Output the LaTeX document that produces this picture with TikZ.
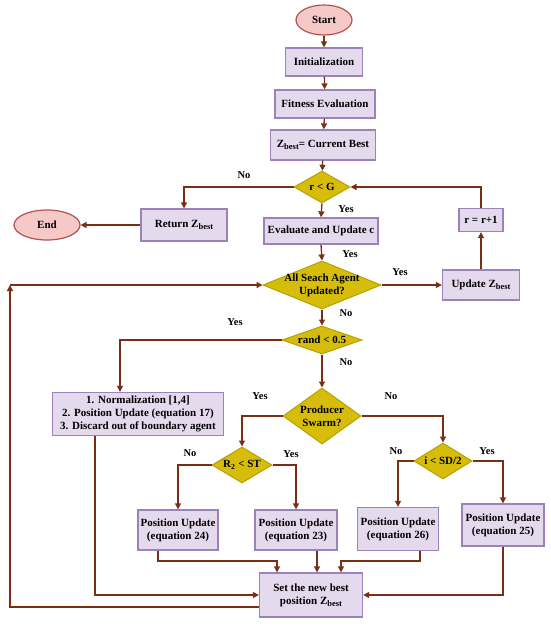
\documentclass[tikz,border=0pt]{standalone}
\usepackage{fontspec}
\setmainfont{Liberation Serif}
\usetikzlibrary{shapes.geometric,arrows.meta}
\definecolor{boxfill}{RGB}{229,218,237}
\definecolor{boxdraw}{RGB}{155,130,184}
\definecolor{diafill}{RGB}{214,189,11}
\definecolor{diadraw}{RGB}{184,159,0}
\definecolor{ellfill}{RGB}{246,201,201}
\definecolor{elldraw}{RGB}{181,80,79}
\definecolor{linec}{RGB}{122,46,19}
\newcommand\mysub[1]{\raisebox{-0.45ex}{\fontsize{8.5}{9}\selectfont #1}}
\tikzset{
  base/.style={font=\bfseries\fontsize{11}{13}\selectfont, text=black, inner sep=1pt},
  procbox/.style={base, rectangle, draw=boxdraw, fill=boxfill, line width=1.3pt, align=center},
  term/.style={base, ellipse, draw=elldraw, fill=ellfill, line width=1.2pt},
  dec/.style={diamond, draw=diadraw, fill=diafill, line width=1pt, inner sep=0pt},
  dectext/.style={base, align=center},
  conn/.style={draw=linec, line width=1.3pt, -{Triangle[length=6pt,width=6pt]}},
  lab/.style={font=\bfseries\fontsize{10.5}{12}\selectfont, text=black, inner sep=0pt}
}
\begin{document}
\begin{tikzpicture}[x=1pt,y=-1pt]
\useasboundingbox (0,0) rectangle (550,626);
\fill[white] (0,0) rectangle (550,626);
% terminals
\node[term, minimum width=56, minimum height=30] (start) at (324,20) {Start};
\node[term, minimum width=66, minimum height=30] (endn) at (47,225) {End};
% process boxes
\node[procbox, minimum width=77, minimum height=28] (init) at (324,62) {Initialization};
\node[procbox, minimum width=100, minimum height=28] (fit) at (325,104) {Fitness Evaluation};
\node[procbox, minimum width=105, minimum height=30] (zb) at (323,145) {Z\mysub{best}= Current Best};
\node[procbox, minimum width=86, minimum height=32] (ret) at (184,225) {Return Z\mysub{best}};
\node[procbox, minimum width=114, minimum height=26] (eval) at (321,231) {Evaluate and Update c};
\node[procbox, minimum width=44, minimum height=23] (rr) at (481,220) {r = r+1};
\node[procbox, minimum width=77, minimum height=30] (upd) at (481,285) {Update Z\mysub{best}};
\node[procbox, minimum width=171, minimum height=43] (norm) at (138,414) {1. Normalization [1,4]\\2. Position Update (equation 17)\\3. Discard out of boundary agent};
\node[procbox, minimum width=80, minimum height=40] (pu24) at (178,530) {Position Update\\(equation 24)};
\node[procbox, minimum width=82, minimum height=40] (pu23) at (296,530) {Position Update\\(equation 23)};
\node[procbox, minimum width=81, minimum height=43] (pu26) at (398,529) {Position Update\\(equation 26)};
\node[procbox, minimum width=82, minimum height=42] (pu25) at (503,525) {Position Update\\(equation 25)};
\node[procbox, minimum width=103, minimum height=44] (set) at (311,595) {Set the new best\\position Z\mysub{best}};
% decisions
\node[dec, minimum width=56, minimum height=32, label={[dectext]center:r < G}] (rg) at (322,187) {};
\node[dec, minimum width=118, minimum height=48, label={[dectext]center:All Seach Agent\\Updated?}] (all) at (322,285) {};
\node[dec, minimum width=80, minimum height=28, label={[dectext]center:rand < 0.5}] (rand) at (322,340) {};
\node[dec, minimum width=78, minimum height=56, label={[dectext]center:Producer\\Swarm?}] (prod) at (322,416) {};
\node[dec, minimum width=60, minimum height=36, label={[dectext]center:R\textsubscript{2} < ST}] (r2) at (242,465) {};
\node[dec, minimum width=58, minimum height=36, label={[dectext]center:i < SD/2}] (isd) at (443,461) {};
% helper coordinates
\coordinate (loopc) at (10,285);
% main spine
\draw[conn] (start) -- (init);
\draw[conn] (init) -- (fit);
\draw[conn] (fit) -- (zb);
\draw[conn] (zb) -- (rg);
\draw[conn] (rg.south) -- (eval.north);
\draw[conn] (rg.west) -| (ret.north);
\draw[conn] (ret.west) -- (endn.east);
\draw[conn] (eval.south) -- (all.north);
\draw[conn] (all.east) -- (upd.west);
\draw[conn] (upd.north) -- (rr.south);
\draw[conn] (rr.north) |- (rg.east);
\draw[conn] (all.south) -- (rand.north);
\draw[conn] (rand.west) -| (norm.north -| 120,0);
\draw[conn] (rand.south) -- (prod.north);
\draw[conn] (prod.west) -| (r2.north);
\draw[conn] (prod.east) -| (isd.north);
\draw[conn] (r2.west) -| (pu24.north);
\draw[conn] (r2.east) -| (pu23.north);
\draw[conn] (isd.west) -| (pu26.north);
\draw[conn] (isd.east) -| (pu25.north);
% into set
\draw[conn] (pu24.south -| 158,0) |- (277,561) -- (set.north -| 277,0);
\draw[conn] (pu23.south -| 317,0) -- (set.north -| 317,0);
\draw[conn] (pu26.south -| 420,0) |- (341,561) -- (set.north -| 341,0);
\draw[conn] (pu25.south) |- (set.east);
\draw[conn] (norm.south -| 95,0) |- (set.west);
% loop back
\draw[conn] (set.west |- 0,607) -| (loopc);
\draw[conn] (loopc) -- (all.west);
% labels
\node[lab] (l1) at (244,175) {No};
\node[lab] (l2) at (346,209) {Yes};
\node[lab] (l3) at (350,254) {Yes};
\node[lab] (l4) at (400,272) {Yes};
\node[lab] (l5) at (346,313) {No};
\node[lab] (l6) at (235,322) {Yes};
\node[lab] (l7) at (346,362) {No};
\node[lab] (l8) at (260,396) {Yes};
\node[lab] (l9) at (391,396) {No};
\node[lab] (l10) at (190,453) {No};
\node[lab] (l11) at (291,454) {Yes};
\node[lab] (l12) at (396,451) {No};
\node[lab] (l13) at (487,451) {Yes};
\end{tikzpicture}
\end{document}
